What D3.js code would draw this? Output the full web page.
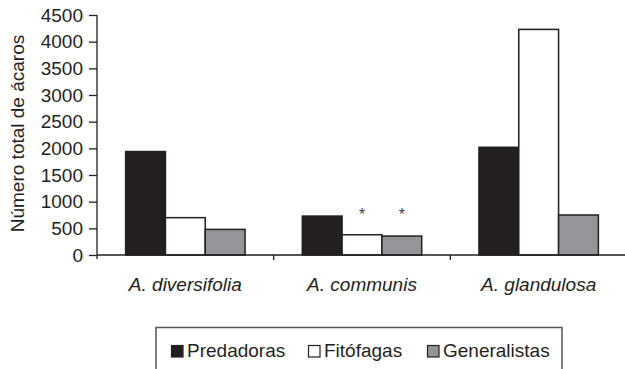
<!DOCTYPE html>
<html>
<head>
<meta charset="utf-8">
<script src="https://cdn.jsdelivr.net/npm/d3@7/dist/d3.min.js"></script>
<style>
  html, body { margin: 0; padding: 0; background: #fff; }
  svg { display: block; }
  svg text { font-family: "Liberation Sans", Arial, sans-serif; }
</style>
</head>
<body>
<svg id="chart" width="625" height="369"></svg>
<script>
// Plant species (groups along the x axis)
const categories = ["A. diversifolia", "A. communis", "A. glandulosa"];
// Mite feeding guilds (bars within each group)
const seriesNames = ["Predadoras", "Fitófagas", "Generalistas"];
// Total mites counted per guild, one value per plant species
const predadoras = [1940, 730, 2020];
const fitofagas = [700, 380, 4230];
const generalistas = [480, 355, 750];
// Guilds flagged with an asterisk, per plant species
const flagged = [["A. communis", "Fitófagas"], ["A. communis", "Generalistas"]];
// Y axis ticks
const yTicks = [0, 500, 1000, 1500, 2000, 2500, 3000, 3500, 4000, 4500];

const seriesValues = [predadoras, fitofagas, generalistas];
const fills = {"Predadoras": "#231f20", "Fitófagas": "#ffffff", "Generalistas": "#939598"};
const ink = "#231f20";
const FONT = "'Liberation Sans', Arial, sans-serif";

const svg = d3.select("#chart");
const plot = {left: 97, right: 627, top: 15, bottom: 255};

const x0 = d3.scaleBand().domain(categories).range([plot.left, plot.right]).padding(0);
const bw = x0.bandwidth();
const groupW = bw * 0.676;
const x1 = d3.scaleBand().domain(seriesNames).range([(bw - groupW) / 2, (bw + groupW) / 2]).padding(0);
const y = d3.scaleLinear().domain([0, 4500]).range([plot.bottom, plot.top]);

const rows = categories.map((c, i) => ({
  category: c,
  bars: seriesNames.map((s, k) => ({category: c, series: s, value: seriesValues[k][i]}))
}));

// Bars
const groups = svg.append("g").selectAll("g").data(rows).join("g")
  .attr("transform", d => `translate(${x0(d.category)},0)`);
groups.selectAll("rect").data(d => d.bars).join("rect")
  .attr("x", d => x1(d.series))
  .attr("y", d => y(d.value))
  .attr("width", x1.bandwidth())
  .attr("height", d => y(0) - y(d.value))
  .attr("fill", d => fills[d.series])
  .attr("stroke", ink)
  .attr("stroke-width", 1.5);

// Asterisks above flagged bars, all on a common level
const starLevel = 820;
svg.append("g").selectAll("text").data(flagged).join("text")
  .attr("x", d => x0(d[0]) + x1(d[1]) + x1.bandwidth() / 2)
  .attr("y", y(starLevel) + 9)
  .attr("text-anchor", "middle")
  .attr("font-size", 16)
  .attr("fill", "#444")
  .text("*");

// Y axis
const yAxis = d3.axisLeft(y).tickValues(yTicks).tickSize(8).tickPadding(6).tickFormat(d3.format("d"));
const gy = svg.append("g").attr("transform", `translate(${plot.left},0)`).call(yAxis)
  .attr("font-family", FONT).attr("font-size", 19);
gy.select(".domain").attr("d", `M0,${plot.top}V${plot.bottom + 4}`);
gy.selectAll("path, line").attr("stroke", ink).attr("stroke-width", 1.3);
gy.selectAll("text").attr("fill", ink);

// X axis: baseline with small ticks at group boundaries
const bounds = categories.map(c => x0(c)).concat([x0(categories[categories.length - 1]) + bw]);
const gx = svg.append("g");
gx.append("line")
  .attr("x1", plot.left).attr("x2", plot.right)
  .attr("y1", y(0)).attr("y2", y(0))
  .attr("stroke", ink).attr("stroke-width", 1.3);
gx.selectAll("line.tick").data(bounds.slice(1)).join("line")
  .attr("class", "tick")
  .attr("x1", d => d).attr("x2", d => d)
  .attr("y1", y(0)).attr("y2", y(0) + 5)
  .attr("stroke", ink).attr("stroke-width", 1.3);
gx.selectAll("text").data(categories).join("text")
  .attr("x", d => x0(d) + bw / 2)
  .attr("y", 291)
  .attr("text-anchor", "middle")
  .attr("font-size", 19)
  .attr("font-style", "italic")
  .attr("fill", ink)
  .text(d => d);

// Y axis title
svg.append("text")
  .attr("transform", `translate(24,${133.5}) rotate(-90)`)
  .attr("text-anchor", "middle")
  .attr("font-size", 19)
  .attr("fill", ink)
  .text("Número total de ácaros");

// Legend
const legend = svg.append("g");
legend.append("rect")
  .attr("x", 156).attr("y", 327.5)
  .attr("width", 406).attr("height", 60)
  .attr("fill", "none").attr("stroke", "#555").attr("stroke-width", 1.5);
const legendX = [171, 308, 427];
const items = legend.selectAll("g.item").data(seriesNames).join("g")
  .attr("class", "item")
  .attr("transform", (d, i) => `translate(${legendX[i]},345)`);
items.append("rect")
  .attr("x", 0.5).attr("y", 0.5)
  .attr("width", 11.5).attr("height", 11.5)
  .attr("fill", d => fills[d])
  .attr("stroke", ink).attr("stroke-width", 1.2);
items.append("text")
  .attr("x", 16).attr("y", 12)
  .attr("font-size", 19)
  .attr("fill", ink)
  .text(d => d);
</script>
</body>
</html>
